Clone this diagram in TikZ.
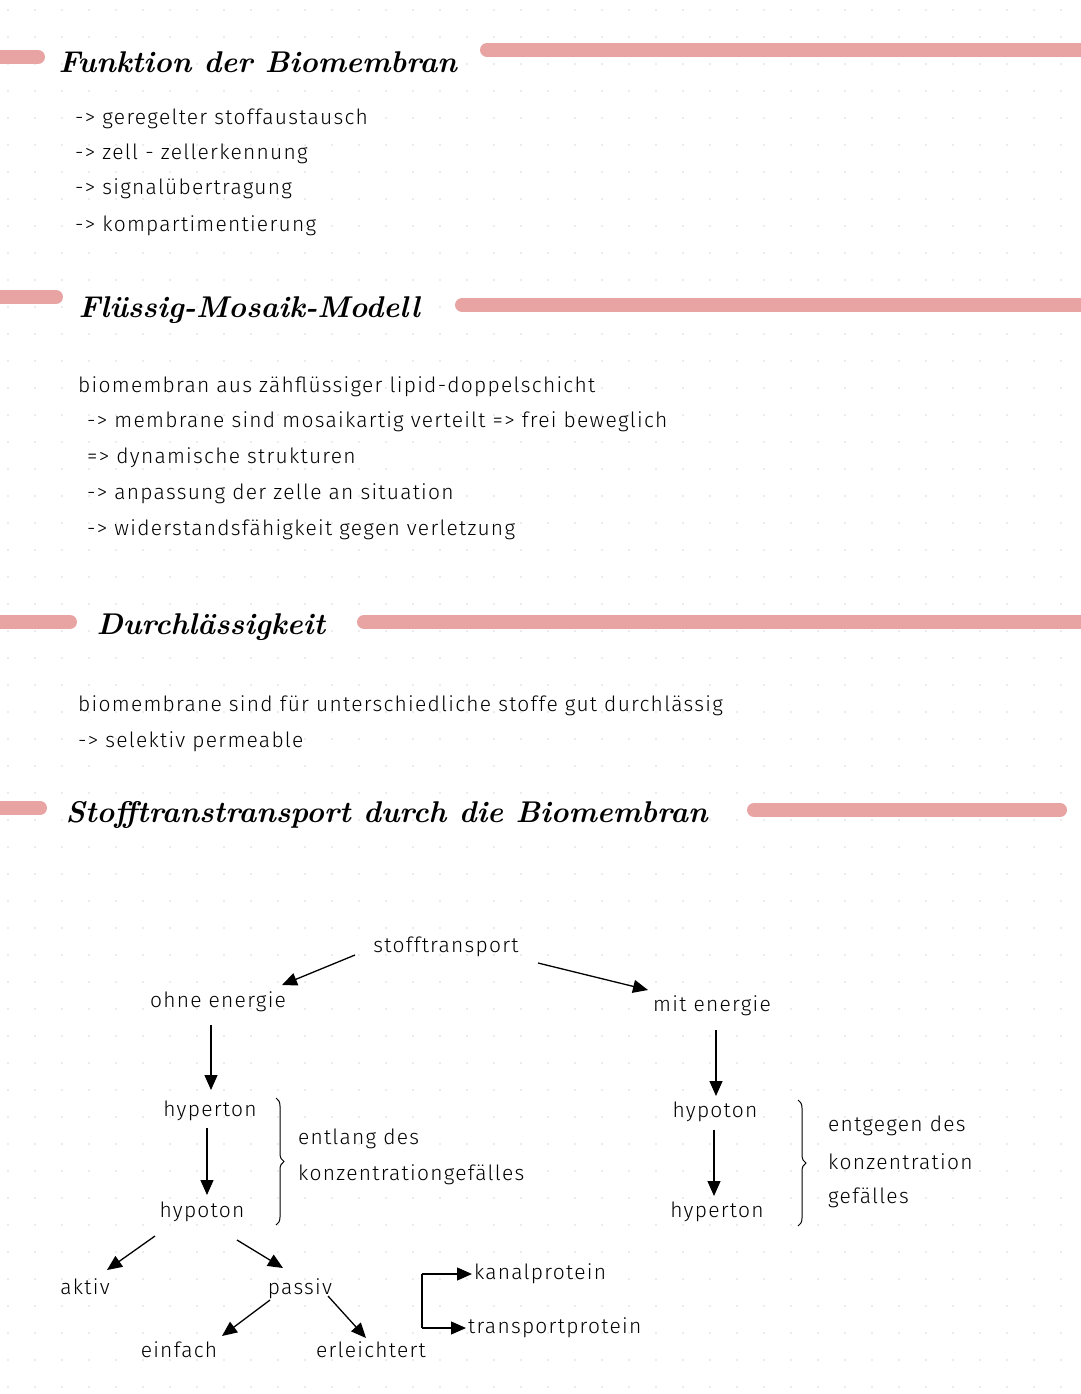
\documentclass[tikz,border=0pt]{standalone}
\usepackage{fontspec}
\setmainfont[LetterSpace=6]{Fira Sans Light}
\newfontfamily\headfont{Latin Modern Roman}
\usetikzlibrary{arrows.meta,decorations.pathreplacing}
\definecolor{bar}{HTML}{E8A3A3}
\begin{document}
\begin{tikzpicture}[x=1pt,y=-1pt,
  barline/.style={bar,line width=14pt,line cap=round},
  head/.style={anchor=west,font=\headfont\fontsize{30}{36}\selectfont\bfseries\itshape},
  txt/.style={anchor=west,font=\fontsize{21}{25}\selectfont,inner sep=0pt},
  lbl/.style={font=\fontsize{21}{25}\selectfont,inner sep=2pt},
  arr/.style={-{Triangle[width=13pt,length=15pt]},line width=1.3pt},
  brace/.style={decorate,decoration={brace,amplitude=8pt},line width=1pt}]
\useasboundingbox (0,0) rectangle (1080,1394);
\fill[white] (0,0) rectangle (1080,1394);
\foreach \i in {0,...,40}{\foreach \j in {0,...,51}{\fill[gray!30] (\i*27+8,\j*27+10) circle (0.9pt);}}
% headings
\draw[barline] (0,57) -- (38,57);
\node[head] (h1) at (55,62) {Funktion der Biomembran};
\draw[barline] (487,50) -- (1080,50);
\draw[barline] (0,297) -- (56,297);
\node[head] (h2) at (75,310) {Flüssig-Mosaik-Modell};
\draw[barline] (462,305) -- (1080,305);
\draw[barline] (0,622) -- (70,622);
\node[head] (h3) at (93,627) {Durchlässigkeit};
\draw[barline] (364,622) -- (1080,622);
\draw[barline] (0,808) -- (40,808);
\node[head] (h4) at (62,815) {Stofftranstransport durch die Biomembran};
\draw[barline] (754,810) -- (1060,810);
% texts
\node[txt] (t1) at (75,119) {-> geregelter stoffaustausch};
\node[txt] (t2) at (75,154) {-> zell - zellerkennung};
\node[txt] (t3) at (75,189) {-> signalübertragung};
\node[txt] (t4) at (75,226) {-> kompartimentierung};
\node[txt] (u1) at (78,387) {biomembran aus zähflüssiger lipid-doppelschicht};
\node[txt] (u2) at (87,422) {-> membrane sind mosaikartig verteilt => frei beweglich};
\node[txt] (u3) at (87,458) {=> dynamische strukturen};
\node[txt] (u4) at (87,494) {-> anpassung der zelle an situation};
\node[txt] (u5) at (87,530) {-> widerstandsfähigkeit gegen verletzung};
\node[txt] (v1) at (78,706) {biomembrane sind für unterschiedliche stoffe gut durchlässig};
\node[txt] (v2) at (78,742) {-> selektiv permeable};
% diagram
\node[lbl] (st) at (446,947) {stofftransport};
\node[lbl] (oe) at (218,1002) {ohne energie};
\node[lbl] (me) at (712,1006) {mit energie};
\node[lbl] (hl) at (210,1111) {hyperton};
\node[lbl] (pl) at (202,1212) {hypoton};
\node[lbl] (pr) at (715,1112) {hypoton};
\node[lbl] (hr) at (717,1212) {hyperton};
\node[lbl] (ak) at (85,1287) {aktiv};
\node[lbl] (pa) at (300,1289) {passiv};
\node[lbl] (ei) at (179,1350) {einfach};
\node[lbl] (er) at (371,1350) {erleichtert};
\node[lbl,anchor=west] (ka) at (472,1274) {kanalprotein};
\node[lbl,anchor=west] (tp) at (466,1328) {transportprotein};
\coordinate (a1) at (355,955); \coordinate (b1) at (282,985);
\coordinate (a2) at (538,963); \coordinate (b2) at (648,990);
\coordinate (a3) at (211,1025); \coordinate (b3) at (211,1090);
\coordinate (a4) at (207,1128); \coordinate (b4) at (207,1195);
\coordinate (a5) at (716,1030); \coordinate (b5) at (716,1096);
\coordinate (a6) at (714,1130); \coordinate (b6) at (714,1196);
\coordinate (a7) at (155,1236); \coordinate (b7) at (107,1270);
\coordinate (a8) at (237,1240); \coordinate (b8) at (283,1268);
\coordinate (a9) at (270,1300); \coordinate (b9) at (222,1336);
\coordinate (a10) at (328,1296); \coordinate (b10) at (366,1338);
\draw[arr] (a1) -- (b1);
\draw[arr] (a2) -- (b2);
\draw[arr] (a3) -- (b3);
\draw[arr] (a4) -- (b4);
\draw[arr] (a5) -- (b5);
\draw[arr] (a6) -- (b6);
\draw[arr] (a7) -- (b7);
\draw[arr] (a8) -- (b8);
\draw[arr] (a9) -- (b9);
\draw[arr] (a10) -- (b10);
\draw[line width=1.3pt] (ka.west) ++(-50,0) coordinate (bk) -- (bk |- tp.west);
\draw[arr] (bk) -- (ka.west);
\draw[arr] (bk |- tp.west) -- (tp.west);
\draw[brace] (276,1098) -- (276,1225);
\node[lbl,anchor=west] (e1) at (296,1139) {entlang des};
\node[lbl,anchor=west] (e2) at (296,1175) {konzentrationgefälles};
\draw[brace] (798,1100) -- (798,1226);
\node[lbl,anchor=west] (g1) at (826,1126) {entgegen des};
\node[lbl,anchor=west] (g2) at (826,1162) {konzentration};
\node[lbl,anchor=west] (g3) at (826,1198) {gefälles};
\end{tikzpicture}
\end{document}
